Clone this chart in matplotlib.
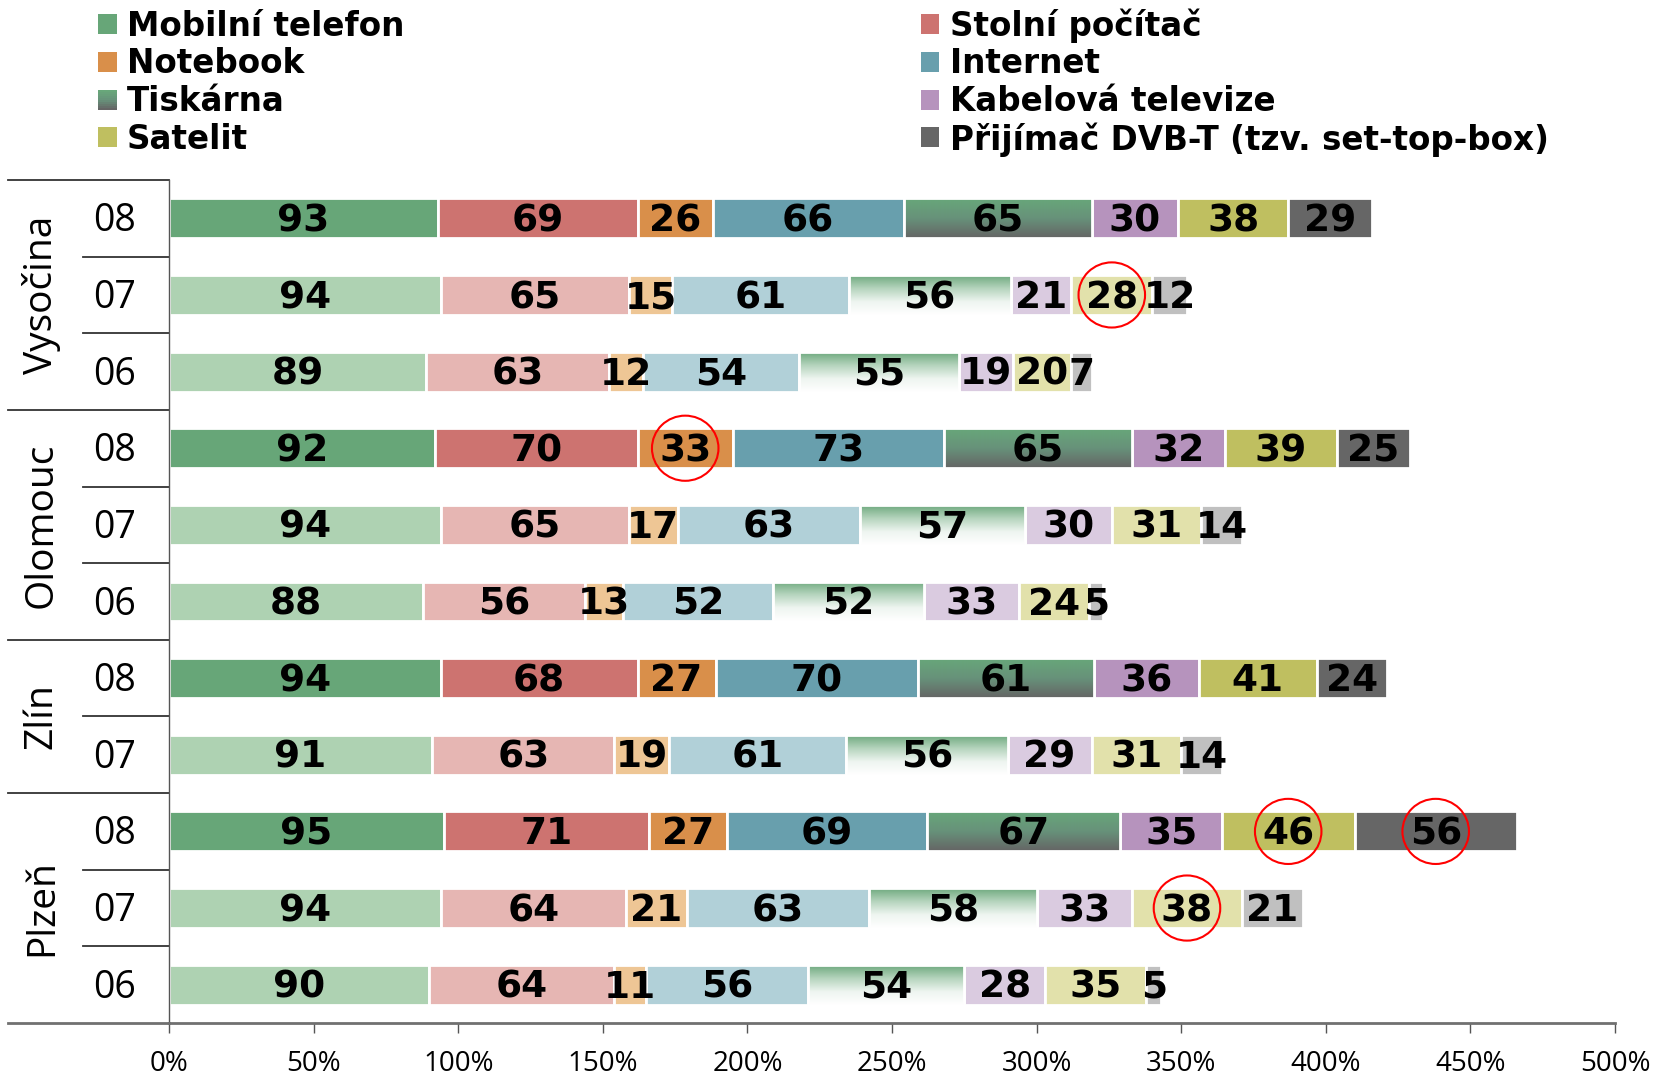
import numpy as np
import matplotlib.pyplot as plt
import matplotlib.transforms as mtransforms
from matplotlib.colors import LinearSegmentedColormap
from matplotlib.patches import Ellipse, Rectangle

# data: one value per row, rows from top to bottom
categories = ['Mobilní telefon', 'Stolní počítač', 'Notebook', 'Internet',
              'Tiskárna', 'Kabelová televize', 'Satelit',
              'Přijímač DVB-T (tzv. set-top-box)']
regions = ['Vysočina', 'Olomouc', 'Zlín', 'Plzeň']
region_rows = [3, 3, 2, 3]
years = ['08', '07', '06', '08', '07', '06', '08', '07', '08', '07', '06']

mobil = [93, 94, 89, 92, 94, 88, 94, 91, 95, 94, 90]
stolni = [69, 65, 63, 70, 65, 56, 68, 63, 71, 64, 64]
notebook = [26, 15, 12, 33, 17, 13, 27, 19, 27, 21, 11]
internet = [66, 61, 54, 73, 63, 52, 70, 61, 69, 63, 56]
tiskarna = [65, 56, 55, 65, 57, 52, 61, 56, 67, 58, 54]
kabel = [30, 21, 19, 32, 30, 33, 36, 29, 35, 33, 28]
satelit = [38, 28, 20, 39, 31, 24, 41, 31, 46, 38, 35]
dvbt = [29, 12, 7, 25, 14, 5, 24, 14, 56, 21, 5]
series = [mobil, stolni, notebook, internet, tiskarna, kabel, satelit, dvbt]

# highlighted cells (row, category)
circled = [(1, 6), (3, 2), (8, 6), (8, 7), (9, 6)]

xticks = np.arange(0, 501, 50)

col_full = ['#67a678', '#cd7370', '#d98f4a', '#689fad', '#67a678', '#b693bd', '#bfbf60', '#666666']
col_light = ['#aed2b2', '#e6b6b3', '#eec695', '#b1d0d8', '#aed2b2', '#dacbe0', '#e2e1ab', '#c0c0c0']
grad_full = LinearSegmentedColormap.from_list('gf', ['#68a77a', '#67927a', '#656565'])
grad_light = LinearSegmentedColormap.from_list('gl', ['#6ea97e', '#b5d4bd', '#eef5f0', '#ffffff'])
GRAD = 4

fig = plt.figure(figsize=(16.61, 10.78), dpi=100)
ax = fig.add_axes([169 / 1661, 1 - 1023 / 1078, 1446 / 1661, 843 / 1078])

y = np.arange(len(years))
left = np.zeros(len(years))
full_row = [yr == '08' for yr in years]
grad = np.linspace(0, 1, 200).reshape(-1, 1)

for i, vals in enumerate(series):
    vals = np.array(vals, dtype=float)
    if i == GRAD:
        bars = ax.barh(y, vals, left=left, height=0.52, facecolor='none',
                       edgecolor='white', linewidth=2, zorder=3)
        for j, b in enumerate(bars):
            cm = grad_full if full_row[j] else grad_light
            im = ax.imshow(grad, cmap=cm, aspect='auto', zorder=2,
                           extent=[left[j], left[j] + vals[j], y[j] + 0.26, y[j] - 0.26])
            im.set_clip_path(b)
    else:
        colors = [col_full[i] if f else col_light[i] for f in full_row]
        bars = ax.barh(y, vals, left=left, height=0.52, color=colors,
                       edgecolor='white', linewidth=2, zorder=1)
    labels = ax.bar_label(bars, labels=[str(int(v)) for v in vals], label_type='center',
                          fontsize=27, fontweight='bold', family='DejaVu Sans', zorder=5)
    for t in labels:
        t.xyann = (0, -2.2)
    for (r, c) in circled:
        if c == i:
            ax.add_patch(Ellipse((left[r] + vals[r] / 2, y[r]), 23, 0.85,
                                 facecolor='none', edgecolor='red', lw=1.5, zorder=6))
    left = left + vals

ax.set_xlim(0, 500)
ax.set_ylim(len(years) - 0.5, -0.5)
ax.set_yticks([])
ax.set_xticks(xticks)
ax.set_xticklabels([f'{v}%' for v in xticks], fontsize=20, family='Open Sans')
ax.tick_params(axis='x', direction='out', length=7, width=1, colors='#555555',
               labelcolor='black', pad=12.5)
for s in ['top', 'right']:
    ax.spines[s].set_visible(False)
ax.spines['bottom'].set_color('#707070')
ax.spines['bottom'].set_linewidth(2)
ax.spines['left'].set_color('#555555')
ax.spines['left'].set_linewidth(1)

# left-hand row/group labels
tr = mtransforms.blended_transform_factory(ax.transAxes, ax.transData)
for j, yr in enumerate(years):
    ax.text(-0.0375, j + 0.04, yr, transform=tr, ha='center', va='center',
            fontsize=27, family='Open Sans')
start = 0
for reg, n in zip(regions, region_rows):
    ax.text(-0.088, start + (n - 1) / 2, reg, transform=tr, rotation=90,
            ha='center', va='center', fontsize=28, family='Open Sans')
    ax.plot([-0.111, 0], [start - 0.5, start - 0.5], transform=tr,
            color='#333333', lw=1.3, clip_on=False)
    for k in range(1, n):
        ax.plot([-0.0595, 0], [start + k - 0.5] * 2, transform=tr,
                color='#333333', lw=1.3, clip_on=False)
    start += n
ax.plot([-0.111, 0], [start - 0.5, start - 0.5], transform=tr,
        color='#707070', lw=2, clip_on=False)

# legend, row-wise in two columns
W, H = 1661, 1078
leg_order = [[0, 2, 4, 6], [1, 3, 5, 7]]
col_x = [98, 921]
for c, idxs in enumerate(leg_order):
    for r, i in enumerate(idxs):
        cy = 24 + 37.8 * r
        x0 = col_x[c]
        if i == GRAD:
            n = 10
            for s in range(n):
                fig.patches.append(Rectangle(
                    (x0 / W, 1 - (cy - 10 + 20 * (s + 1) / n) / H), 18.5 / W, 20 / n / H,
                    transform=fig.transFigure, facecolor=grad_full(s / (n - 1)),
                    edgecolor='none'))
        else:
            fig.patches.append(Rectangle((x0 / W, 1 - (cy + 10) / H), 18.5 / W, 20 / H,
                                         transform=fig.transFigure,
                                         facecolor=col_full[i], edgecolor='none'))
        fig.text((x0 + 29) / W, 1 - (cy + 2) / H, categories[i], ha='left', va='center',
                 fontsize=23.5, fontweight='bold', family='DejaVu Sans')

fig.savefig('out.png', dpi=100)
